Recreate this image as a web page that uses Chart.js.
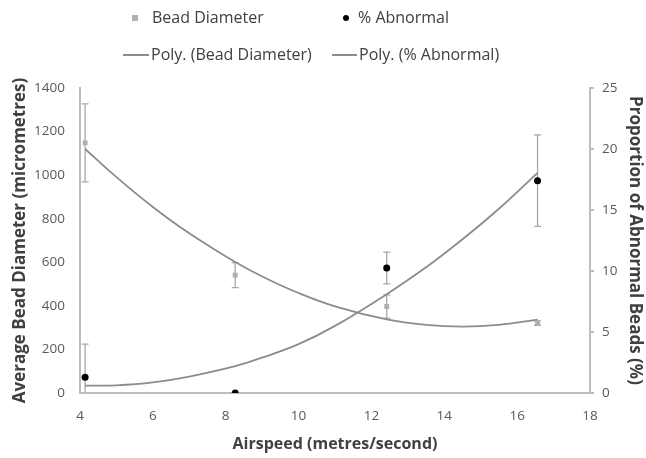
<!DOCTYPE html>
<html>
<head>
<meta charset="utf-8">
<script src="https://cdn.jsdelivr.net/npm/chart.js@4/dist/chart.umd.min.js"></script>
<style>
  html, body { margin: 0; padding: 0; background: #fff; }
  #wrap { width: 646px; height: 458px; }
</style>
</head>
<body>
<div id="wrap"><canvas id="chart" width="646" height="458"></canvas></div>
<script>
// airspeed values (m/s) for measured points
const airspeed = [4.14, 8.26, 12.42, 16.56];
const beadDiameter = [1148, 541, 397, 321];
const beadError = [179, 57, 53, 10];
const pctAbnormal = [1.3, 0, 10.25, 17.4];
const pctError = [2.7, 0, 1.3, 3.75];

// polynomial trend curves
const trendX = [4.14, 5, 6, 7, 8.26, 9, 10, 11, 12.42, 13.5, 14.5, 15.5, 16.56];
const trendBead = [1120, 991, 854, 733, 601, 535, 459, 398, 338, 313, 305, 313, 337];
const trendAbnormal = [0.6, 0.63, 0.87, 1.35, 2.2, 2.9, 4.0, 5.5, 8.1, 10.3, 12.6, 15.1, 18.05];

const FONT = "'Open Sans', 'Noto Sans', sans-serif";
const GREY_PT = '#b0b0b0';
const GREY_LINE = '#8c8c8c';
const AXIS = '#bdbdbd';

function pts(xs, ys){ return xs.map((x,i)=>({x:x, y:ys[i]})); }
const plain = v => String(v);

// error bars, drawn under the points
const errorBars = {
  id: 'errorBars',
  beforeDatasetsDraw(chart){
    const {ctx, chartArea, scales} = chart;
    ctx.save();
    ctx.beginPath();
    ctx.rect(chartArea.left, chartArea.top, chartArea.right - chartArea.left, chartArea.bottom - chartArea.top);
    ctx.clip();
    ctx.strokeStyle = '#a8a8a8';
    ctx.lineWidth = 1.3;
    const sets = [[beadDiameter, beadError, scales.y], [pctAbnormal, pctError, scales.y1]];
    sets.forEach(([vals, errs, ys]) => {
      vals.forEach((v, i) => {
        if(!errs[i]) return;
        const px = scales.x.getPixelForValue(airspeed[i]);
        const top = ys.getPixelForValue(v + errs[i]);
        const bot = ys.getPixelForValue(v - errs[i]);
        ctx.beginPath();
        ctx.moveTo(px, top); ctx.lineTo(px, bot);
        ctx.moveTo(px - 3.5, top); ctx.lineTo(px + 3.5, top);
        ctx.moveTo(px - 3.5, bot); ctx.lineTo(px + 3.5, bot);
        ctx.stroke();
      });
    });
    ctx.restore();
  }
};

// two-row legend laid out like the original
const legendRows = {
  id: 'legendRows',
  afterDraw(chart){
    const ctx = chart.ctx;
    ctx.save();
    ctx.font = '16px ' + FONT;
    ctx.fillStyle = '#404040';
    ctx.textBaseline = 'middle';
    ctx.textAlign = 'left';
    // row 1
    ctx.fillStyle = GREY_PT;
    ctx.fillRect(132, 15, 6, 6);
    ctx.fillStyle = '#404040';
    ctx.fillText(chart.data.datasets[0].label, 152, 18);
    ctx.fillStyle = '#000';
    ctx.beginPath(); ctx.arc(346, 18, 3, 0, Math.PI * 2); ctx.fill();
    ctx.fillStyle = '#404040';
    ctx.fillText(chart.data.datasets[1].label, 358, 18);
    // row 2
    ctx.strokeStyle = GREY_LINE;
    ctx.lineWidth = 2;
    ctx.beginPath(); ctx.moveTo(123, 55); ctx.lineTo(149, 55); ctx.stroke();
    ctx.fillText(chart.data.datasets[2].label, 151, 55);
    ctx.beginPath(); ctx.moveTo(332, 55); ctx.lineTo(357, 55); ctx.stroke();
    ctx.fillText(chart.data.datasets[3].label, 359, 55);
    ctx.restore();
  }
};

const ctx = document.getElementById('chart').getContext('2d');
new Chart(ctx, {
  type: 'scatter',
  data: {
    datasets: [
      {label: 'Bead Diameter', data: pts(airspeed, beadDiameter), yAxisID: 'y',
       pointStyle: 'rect', pointRadius: 3.5, backgroundColor: GREY_PT, borderColor: GREY_PT, borderWidth: 0},
      {label: '% Abnormal', data: pts(airspeed, pctAbnormal), yAxisID: 'y1',
       pointStyle: 'circle', pointRadius: 3.5, backgroundColor: '#000', borderColor: '#000', borderWidth: 0},
      {label: 'Poly. (Bead Diameter)', data: pts(trendX, trendBead), yAxisID: 'y',
       showLine: true, pointRadius: 0, borderColor: GREY_LINE, borderWidth: 1.8, tension: 0.4},
      {label: 'Poly. (% Abnormal)', data: pts(trendX, trendAbnormal), yAxisID: 'y1',
       showLine: true, pointRadius: 0, borderColor: GREY_LINE, borderWidth: 1.8, tension: 0.4}
    ]
  },
  options: {
    responsive: false,
    animation: false,
    layout: {padding: {top: 88, left: 0, right: 0, bottom: 0}},
    plugins: {legend: {display: false}, tooltip: {enabled: false}},
    scales: {
      x: {
        type: 'linear', min: 4, max: 18,
        ticks: {stepSize: 2, padding: 15, color: '#595959', font: {family: FONT, size: 13.5}, callback: plain},
        grid: {display: false, drawTicks: false},
        border: {color: AXIS, width: 2},
        title: {display: true, text: 'Airspeed (metres/second)', color: '#404040',
                font: {family: FONT, size: 16, weight: 'bold'}, padding: {bottom: 4}},
        afterFit(s){ s.height = 65; }
      },
      y: {
        position: 'left', min: 0, max: 1400,
        ticks: {stepSize: 200, padding: 15, color: '#595959', font: {family: FONT, size: 13.5}, callback: plain},
        grid: {display: false, drawTicks: false},
        border: {color: AXIS, width: 2},
        title: {display: true, text: 'Average Bead Diameter (micrometres)', color: '#404040',
                font: {family: FONT, size: 17, weight: 'bold'}, padding: {top: 10}},
        afterFit(s){ s.width = 80; }
      },
      y1: {
        position: 'right', min: 0, max: 25,
        ticks: {stepSize: 5, padding: 8, color: '#595959', font: {family: FONT, size: 13.5}, callback: plain},
        grid: {drawOnChartArea: false, drawTicks: true, tickLength: 4, color: AXIS, lineWidth: 2},
        border: {color: AXIS, width: 2},
        title: {display: true, text: 'Proportion of Abnormal Beads (%)', color: '#404040',
                font: {family: FONT, size: 17, weight: 'bold'}, padding: {top: 1}},
        afterFit(s){ s.width = 56; }
      }
    }
  },
  plugins: [errorBars, legendRows]
});
</script>
</body>
</html>
